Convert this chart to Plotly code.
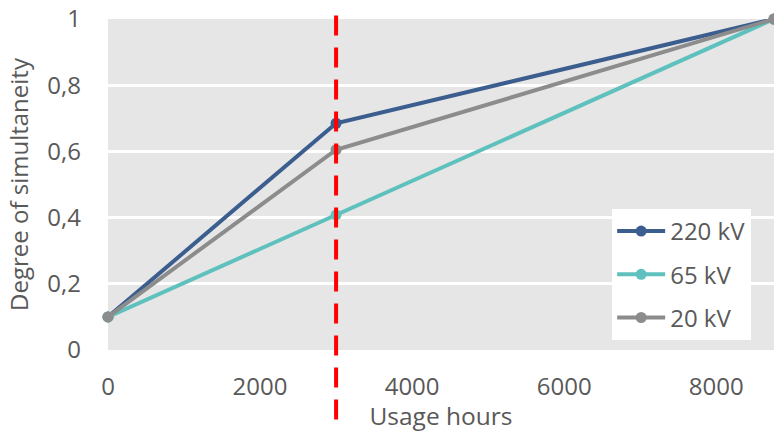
import plotly.graph_objects as go

hours = [0, 3000, 8760]
s220 = [0.1, 0.685, 1.0]
s65 = [0.1, 0.408, 1.0]
s20 = [0.1, 0.605, 1.0]
names = ["220 kV", "65 kV", "20 kV"]
colors = ["#3b5e8f", "#5fc1bd", "#8c8c8c"]
xticks = [0, 2000, 4000, 6000, 8000]
yticks = [0, 0.2, 0.4, 0.6, 0.8, 1.0]
ytick_text = ["0", "0,2", "0,4", "0,6", "0,8", "1"]
cut_hours = 3000

fig = go.Figure()
for name, ys, c in zip(names, [s220, s65, s20], colors):
    fig.add_trace(go.Scatter(x=hours, y=ys, name=name, mode="lines+markers",
                             line=dict(color=c, width=4), marker=dict(color=c, size=11),
                             legendgroup=name, cliponaxis=False))

fig.add_shape(type="line", xref="x", yref="paper", x0=cut_hours, x1=cut_hours,
              y0=-0.21, y1=1.036, line=dict(color="#ff0000", width=4, dash="20px,12px"),
              layer="above")

font = "Open Sans, Segoe UI, sans-serif"
fig.update_layout(
    width=774, height=432,
    margin=dict(l=108, r=0, t=19, b=82),
    paper_bgcolor="white", plot_bgcolor="#e6e6e6",
    font=dict(family=font, size=24, color="#595959"),
    separators=",.",
    xaxis=dict(range=[0, 8760], tickvals=xticks, showgrid=False, zeroline=False,
               ticks="", ticklen=0, ticklabelstandoff=20,
               title=dict(text="Usage hours", standoff=0, font=dict(size=24.5)),
               showline=False),
    yaxis=dict(range=[0, 1], tickvals=yticks, ticktext=ytick_text, showgrid=True,
               gridcolor="white", gridwidth=3, zeroline=False, ticks="",
               ticklabelstandoff=26,
               title=dict(text="Degree of simultaneity", standoff=11, font=dict(size=24))),
    legend=dict(x=0.757, y=0.426, xanchor="left", yanchor="top", bgcolor="white",
                font=dict(size=24, color="#595959"), tracegroupgap=9,
                traceorder="grouped", itemwidth=48),
    showlegend=True,
)
fig.write_html("out.html")
